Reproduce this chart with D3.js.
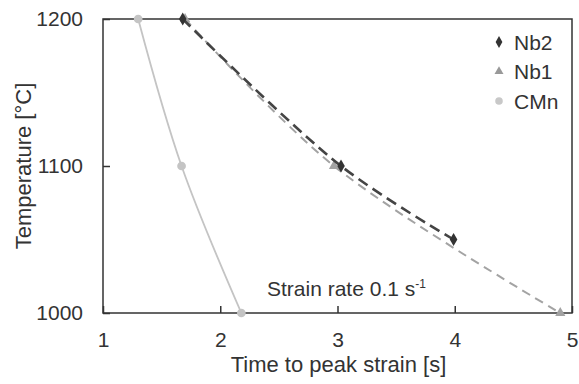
<!DOCTYPE html>
<html>
<head>
<meta charset="utf-8">
<script src="https://cdn.jsdelivr.net/npm/d3@7"></script>
<style>
  body { margin: 0; background: #fff; }
  text, tspan { font-family: "Liberation Sans", Arial, sans-serif; fill: #333; }
</style>
</head>
<body>
<div class="chart"></div>
<script>
// valeurs
const nb2Time = [1.68, 3.03, 3.99];
const nb2Temp = [1200, 1100, 1050];
const nb1Time = [1.70, 2.97, 4.90];
const nb1Temp = [1200, 1100, 1000];
const cmnTime = [1.30, 1.67, 2.18];
const cmnTemp = [1200, 1100, 1000];
const xTicks = [1, 2, 3, 4, 5];
const yTicks = [1000, 1100, 1200];

const width = 579, height = 384;
const margin = {top: 19, right: 7, bottom: 71, left: 103};

const svg = d3.select(".chart")
    .append("svg")
    .attr("width", width)
    .attr("height", height);

const x = d3.scaleLinear().domain([1, 5]).range([margin.left, width - margin.right]);
const y = d3.scaleLinear().domain([1000, 1200]).range([height - margin.bottom, margin.top]);

// cadre
svg.append("rect")
    .attr("x", x(1)).attr("y", y(1200))
    .attr("width", x(5) - x(1)).attr("height", y(1000) - y(1200))
    .attr("fill", "none").attr("stroke", "#333").attr("stroke-width", 1.5);

// axes avec graduations vers l'intérieur
const xAxis = svg.append("g")
    .attr("transform", `translate(0,${y(1000)})`)
    .call(d3.axisBottom(x).tickValues(xTicks).tickSize(-7).tickPadding(19).tickFormat(d3.format("d")));
const yAxis = svg.append("g")
    .attr("transform", `translate(${x(1)},0)`)
    .call(d3.axisLeft(y).tickValues(yTicks).tickSize(-7).tickPadding(20).tickFormat(d3.format("d")));

[xAxis, yAxis].forEach(a => {
    a.select(".domain").remove();
    a.selectAll("line").attr("stroke", "#333").attr("stroke-width", 1.5);
    a.selectAll("text").style("font-size", "21px").attr("fill", "#333");
});

// titres
svg.append("text")
    .attr("x", (x(1) + x(5)) / 2 + 1)
    .attr("y", 372)
    .attr("text-anchor", "middle")
    .style("font-size", "22px")
    .text("Time to peak strain [s]");

svg.append("text")
    .attr("transform", `translate(31,${(y(1000) + y(1200)) / 2}) rotate(-90)`)
    .attr("text-anchor", "middle")
    .style("font-size", "22px")
    .text("Temperature [°C]");

// annotation
const note = svg.append("text")
    .attr("x", 267).attr("y", 296)
    .style("font-size", "21px");
note.append("tspan").text("Strain rate 0.1 s");
note.append("tspan").attr("dy", -8).style("font-size", "12px").style("fill", "#333").text("-1");

// courbes
const line = d3.line()
    .x(d => x(d[0]))
    .y(d => y(d[1]))
    .curve(d3.curveCatmullRom);

const series = [
    {name: "CMn", pts: d3.zip(cmnTime, cmnTemp), color: "#c4c4c4", dash: null, w: 1.8, shape: d3.symbolCircle, size: 60},
    {name: "Nb1", pts: d3.zip(nb1Time, nb1Temp), color: "#a3a3a3", dash: "9,6", w: 2, shape: d3.symbolTriangle, size: 45},
    {name: "Nb2", pts: d3.zip(nb2Time, nb2Temp), color: "#444", dash: "11,6", w: 2.6, shape: d3.symbolDiamond, size: 50}
];

series.forEach(s => {
    svg.append("path")
        .datum(s.pts)
        .attr("d", line)
        .attr("fill", "none")
        .attr("stroke", s.color)
        .attr("stroke-width", s.w)
        .attr("stroke-dasharray", s.dash);
    svg.selectAll(null)
        .data(s.pts)
        .enter()
        .append("path")
        .attr("d", d3.symbol().type(s.shape).size(s.size))
        .attr("transform", d => `translate(${x(d[0])},${y(d[1])})`)
        .attr("fill", s.color === "#444" ? "#333" : s.color);
});

// légende
const legend = [
    {name: "Nb2", shape: d3.symbolDiamond, color: "#333", size: 40},
    {name: "Nb1", shape: d3.symbolTriangle, color: "#999", size: 35},
    {name: "CMn", shape: d3.symbolCircle, color: "#c8c8c8", size: 45}
];
const lg = svg.selectAll(".leg")
    .data(legend)
    .enter()
    .append("g")
    .attr("transform", (d, i) => `translate(499,${42 + i * 29.5})`);
lg.append("path")
    .attr("d", d => d3.symbol().type(d.shape).size(d.size)())
    .attr("fill", d => d.color);
lg.append("text")
    .attr("x", 15).attr("y", 7.5)
    .style("font-size", "21px")
    .text(d => d.name);
</script>
</body>
</html>
